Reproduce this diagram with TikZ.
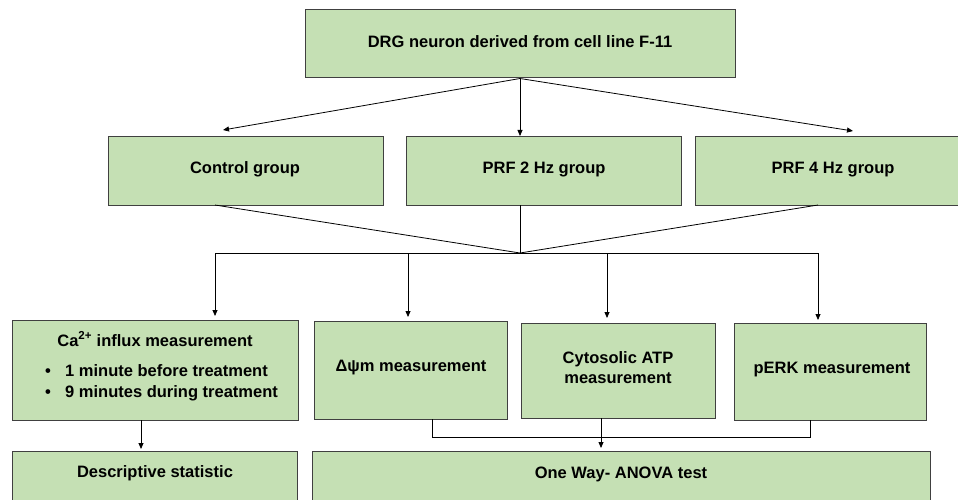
\documentclass[tikz,border=0pt]{standalone}
\usepackage{fontspec}
\setmainfont{Liberation Sans}
\usetikzlibrary{arrows.meta}
\definecolor{boxfill}{HTML}{C5E0B4}
\definecolor{boxline}{HTML}{404040}
\begin{document}
\begin{tikzpicture}[x=1pt,y=-1pt,
  box/.style={draw=boxline, fill=boxfill, line width=1pt, inner sep=0pt},
  lbl/.style={font=\fontsize{16.5}{20}\selectfont\bfseries, inner sep=0pt, align=center, anchor=base},
  conn/.style={draw=black, line width=0.8pt},
  arr/.style={conn, -{Triangle[length=6pt,width=5pt]}}]
\useasboundingbox (0,0) rectangle (958,500);
\clip (0,0) rectangle (958,500);
% boxes
\node[box, minimum width=430pt, minimum height=68pt] (top) at (520,44) {};
\node[box, minimum width=275pt, minimum height=68pt] (ctrl) at (245.5,171) {};
\node[box, minimum width=275pt, minimum height=68pt] (prf2) at (543.5,171) {};
\node[box, minimum width=276pt, minimum height=68pt] (prf4) at (833,171) {};
\node[box, minimum width=286pt, minimum height=100pt] (ca) at (155,370) {};
\node[box, minimum width=193pt, minimum height=98pt] (dpsi) at (410.5,370) {};
\node[box, minimum width=194pt, minimum height=95pt] (atp) at (618,370.5) {};
\node[box, minimum width=192pt, minimum height=97pt] (perk) at (830,371.5) {};
\node[box, minimum width=285pt, minimum height=78pt] (desc) at (154.5,490) {};
\node[box, minimum width=618pt, minimum height=78pt] (anova) at (621,490) {};
% labels
\node[lbl] (ttop) at (520,48) {DRG neuron derived from cell line F-11};
\node[lbl] (tctrl) at (245,173) {Control group};
\node[lbl] (tprf2) at (544,173) {PRF 2 Hz group};
\node[lbl] (tprf4) at (833,173) {PRF 4 Hz group};
\node[lbl] (tca) at (155,346) {Ca\textsuperscript{2+} influx measurement};
\node[lbl] (b1) at (48,376.5) {\textbullet};
\node[lbl, anchor=base west] (tb1) at (65,376.5) {1 minute before treatment};
\node[lbl] (b2) at (48,397.5) {\textbullet};
\node[lbl, anchor=base west] (tb2) at (65,397.5) {9 minutes during treatment};
\node[lbl] (tdpsi) at (411,371) {Δψm measurement};
\node[lbl] (tatp1) at (618,363) {Cytosolic ATP};
\node[lbl] (tatp2) at (618,383) {measurement};
\node[lbl] (tperk) at (832,373) {pERK measurement};
\node[lbl] (tdesc) at (155,477.5) {Descriptive statistic};
\node[lbl] (tanova) at (621,478) {One Way- ANOVA test};
% coordinates
\coordinate (a1) at (223,130);
\coordinate (a2) at (520,136);
\coordinate (a3) at (853,131);
\coordinate (j) at (520,253);
\coordinate (c1) at (215,205);
\coordinate (c2) at (520,205);
\coordinate (c3) at (818,205);
\coordinate (h1) at (215,253);
\coordinate (h2) at (408,253);
\coordinate (h3) at (607,253);
\coordinate (h4) at (818,253);
\coordinate (d1) at (215,316);
\coordinate (d2) at (408,317);
\coordinate (d3) at (607,318);
\coordinate (d4) at (818,320);
\coordinate (e1) at (141,420);
\coordinate (e2) at (141,449);
\coordinate (f1) at (432,419);
\coordinate (f2) at (432,437);
\coordinate (f3) at (810,437);
\coordinate (f4) at (810,420);
\coordinate (g1) at (601,418);
\coordinate (g2) at (601,448);
% connectors
\draw[arr] (top.south) -- (a1);
\draw[arr] (top.south) -- (a2);
\draw[arr] (top.south) -- (a3);
\draw[conn] (c1) -- (j);
\draw[conn] (c2) -- (j);
\draw[conn] (c3) -- (j);
\draw[conn] (h1) -- (h4);
\draw[arr] (h1) -- (d1);
\draw[arr] (h2) -- (d2);
\draw[arr] (h3) -- (d3);
\draw[arr] (h4) -- (d4);
\draw[arr] (e1) -- (e2);
\draw[conn] (f1) -- (f2) -- (f3) -- (f4);
\draw[arr] (g1) -- (g2);
\end{tikzpicture}
\end{document}
